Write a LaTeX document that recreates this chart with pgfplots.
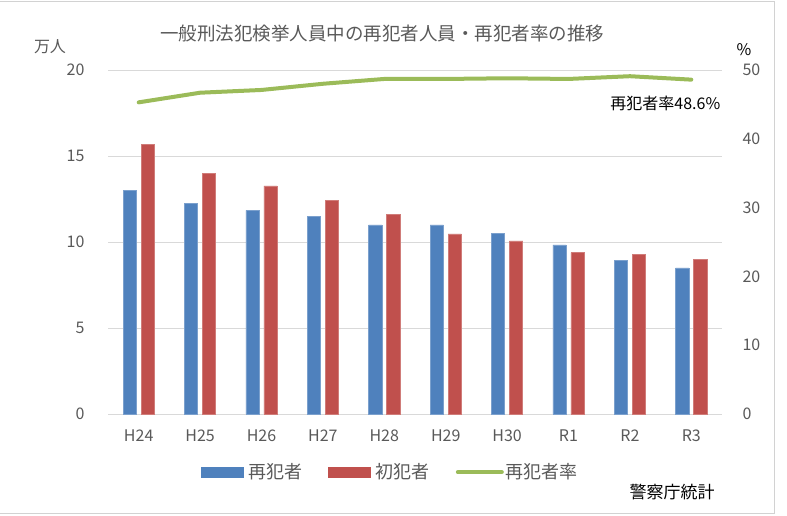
\documentclass[border=0pt]{standalone}
\usepackage{fontspec}
\setmainfont{Noto Sans CJK JP}
\usepackage{pgfplots}
\pgfplotsset{compat=1.18}
\definecolor{barblue}{RGB}{79,129,189}
\definecolor{barred}{RGB}{192,80,77}
\definecolor{linegreen}{RGB}{155,187,89}
\definecolor{txtgray}{RGB}{89,89,89}
\definecolor{gridgray}{RGB}{217,217,217}
\definecolor{framegray}{RGB}{210,210,210}

\pgfplotstableread{
x sai sho
0 12.98 15.68
1 12.25 14.00
2 11.84 13.26
3 11.49 12.42
4 11.00 11.59
5 10.99 10.47
6 10.52 10.06
7 9.83 9.38
8 8.95 9.28
9 8.49 8.99
}\hitodata
\pgfplotstableread{
x rate
0 45.3
1 46.7
2 47.1
3 48.0
4 48.7
5 48.7
6 48.8
7 48.7
8 49.1
9 48.6
}\ratedata

\begin{document}
\begin{tikzpicture}
\path[use as bounding box] (0pt,0pt) rectangle (787pt,-515pt);
\draw[framegray,line width=1pt] (-2pt,-1pt) rectangle (774pt,-513pt);
\pgfplotsset{
  common/.style={
    at={(108pt,-414pt)},anchor=south west,
    width=614pt,height=344pt,scale only axis,
    xmin=-0.5,xmax=9.5,
    major tick length=0pt,
    tick label style={font=\fontsize{16}{18}\selectfont,text=txtgray},
    /pgf/number format/assume math mode=true,
  }
}
\begin{axis}[common,
  ymin=0,ymax=20,ytick={0,5,...,20},
  axis x line*=bottom,axis y line*=left,
  x axis line style={gridgray,line width=1pt,-},
  y axis line style={draw=none},
  ymajorgrids,grid style={gridgray,line width=1pt},
  xtick={0,...,9},
  xticklabels={H24,H25,H26,H27,H28,H29,H30,R1,R2,R3},
  xticklabel style={yshift=-12pt},
  yticklabel style={anchor=east,xshift=-20pt},
  ybar,bar width=13.3pt,
  clip=false]
\addplot[ybar,bar shift=-9pt,fill=barblue,draw=barblue!75!white,line width=0.6pt] table[x=x,y=sai] {\hitodata};
\addplot[ybar,bar shift=9pt,fill=barred,draw=barred!75!white,line width=0.6pt] table[x=x,y=sho] {\hitodata};
\end{axis}
\begin{axis}[common,
  ymin=0,ymax=50,ytick={0,10,...,50},
  axis x line=none,axis y line*=right,
  y axis line style={draw=none},
  yticklabel style={anchor=west,xshift=17pt},
  clip=false,
  legend columns=3,
  legend style={at={(0.46,-0.169)},anchor=center,draw=none,fill=none,
    font=\fontsize{18}{20}\selectfont,text=txtgray,
    /tikz/every even column/.append style={column sep=24pt}},
  ]
\addlegendimage{legend image code/.code={\fill[barblue] (0pt,-5pt) rectangle (42pt,5pt);\path (45pt,0pt);}}
\addlegendentry{再犯者}
\addlegendimage{legend image code/.code={\fill[barred] (0pt,-5pt) rectangle (42pt,5pt);\path (45pt,0pt);}}
\addlegendentry{初犯者}
\addplot[linegreen,line width=4pt,line cap=round,line join=round,
  legend image code/.code={\draw[linegreen,line width=4pt,line cap=round] (0pt,0pt) -- (44pt,0pt);}]
  table[x=x,y=rate] {\ratedata};
\addlegendentry{再犯者率}
\node[anchor=west,inner sep=0pt,font=\fontsize{16}{18}\selectfont,text=black] at (axis cs:7.68,45.1) {再犯者率48.6\%};
\end{axis}
\node[font=\fontsize{18.5}{20}\selectfont,text=txtgray] at (382pt,-33pt) {一般刑法犯検挙人員中の再犯者人員・再犯者率の推移};
\node[font=\fontsize{16}{18}\selectfont,text=txtgray] at (50pt,-47pt) {万人};
\node[font=\fontsize{16}{18}\selectfont,text=black] at (744pt,-50pt) {\%};
\node[font=\fontsize{17}{19}\selectfont,text=black] at (672pt,-492pt) {警察庁統計};
\end{tikzpicture}
\end{document}
